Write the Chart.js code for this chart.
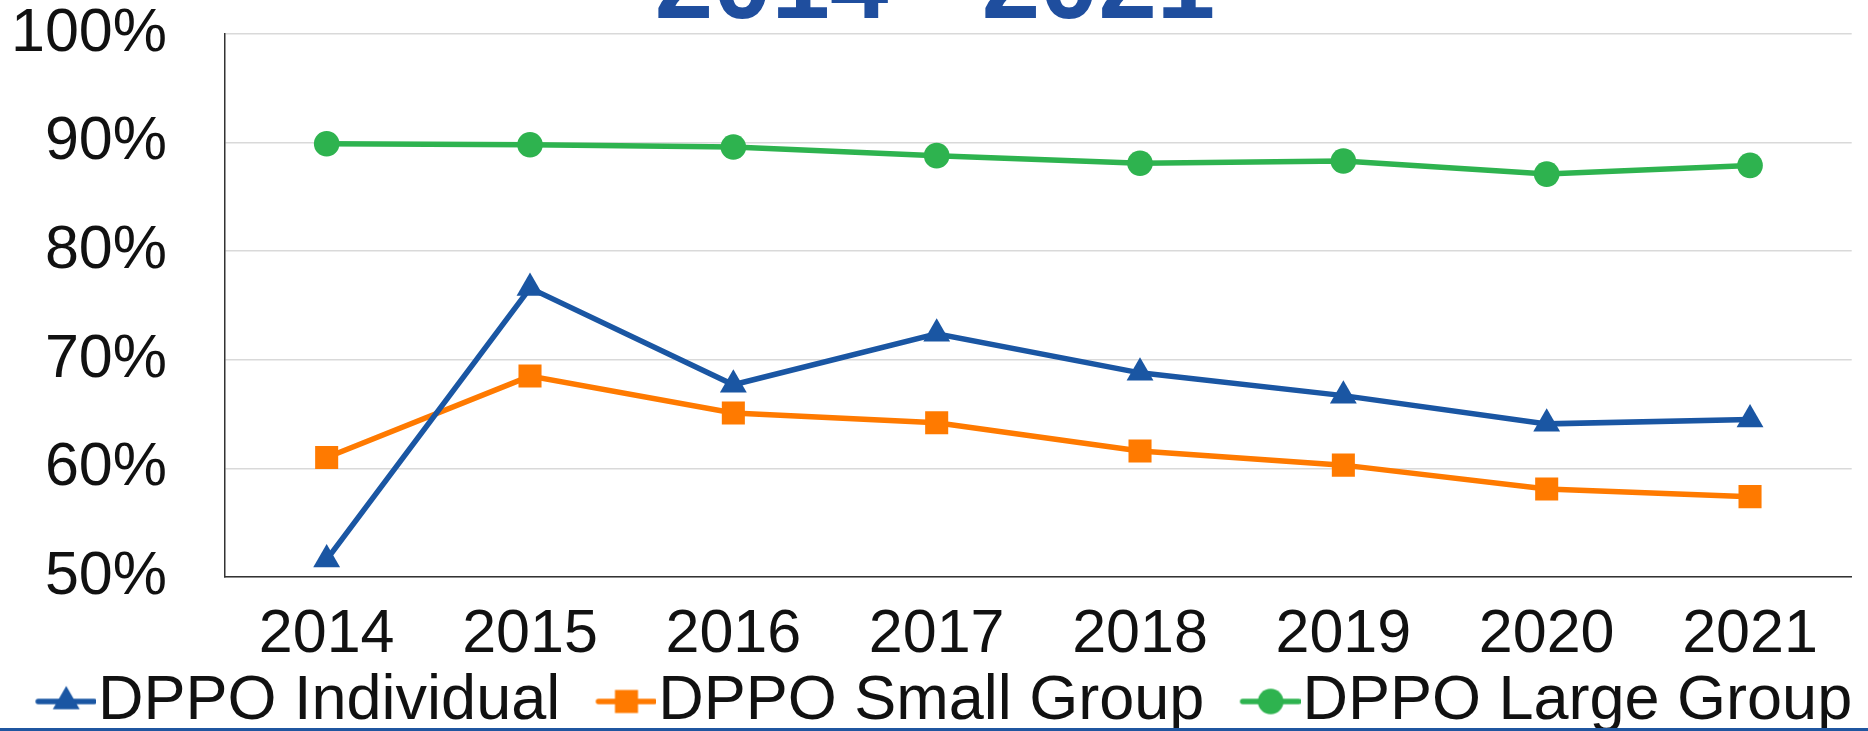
<!DOCTYPE html>
<html>
<head>
<meta charset="utf-8">
<script src="https://cdn.jsdelivr.net/npm/chart.js@4/dist/chart.umd.min.js"></script>
<style>
  html, body { margin: 0; padding: 0; background: #fff; }
  #wrap { width: 1868px; height: 731px; position: relative; }
</style>
</head>
<body>
<div id="wrap"><canvas id="chart" width="1868" height="731"></canvas></div>
<script>
const years = ["2014", "2015", "2016", "2017", "2018", "2019", "2020", "2021"];
const individual = [51.6, 76.6, 67.7, 72.4, 68.8, 66.7, 64.1, 64.5];
const smallGroup = [61.0, 68.5, 65.1, 64.2, 61.6, 60.3, 58.1, 57.4];
const largeGroup = [89.9, 89.8, 89.6, 88.8, 88.1, 88.3, 87.1, 87.9];
const titleText = "2014 - 2021";

const BLUE = "#1A56A3";
const ORANGE = "#FF7A00";
const GREEN = "#2EB34F";
const FONT = "Liberation Sans, Arial, sans-serif";
const LINE_W = 5.5;

// legend icon: short line with the marker in the middle,
// drawn in the right part of a wider transparent image
function makeIcon(color, style, r) {
  const c = document.createElement("canvas");
  c.width = 118;
  c.height = 34;
  const g = c.getContext("2d");
  const cx = 88, cy = 17;
  g.strokeStyle = color;
  g.fillStyle = color;
  g.lineWidth = LINE_W;
  g.lineCap = "round";
  g.beginPath();
  g.moveTo(60, cy);
  g.lineTo(116, cy);
  g.stroke();
  g.beginPath();
  if (style === "triangle") {
    g.moveTo(cx, cy - r);
    g.lineTo(cx + r * 0.866, cy + r * 0.5);
    g.lineTo(cx - r * 0.866, cy + r * 0.5);
    g.closePath();
  } else if (style === "rect") {
    const s = r * Math.SQRT1_2;
    g.rect(cx - s, cy - s, 2 * s, 2 * s);
  } else {
    g.arc(cx, cy, r, 0, Math.PI * 2);
  }
  g.fill();
  return c;
}

const icons = [
  makeIcon(BLUE, "triangle", 15.5),
  makeIcon(ORANGE, "rect", 16.3),
  makeIcon(GREEN, "circle", 12.8),
];

const extras = {
  id: "extras",
  afterDraw(chart) {
    const ctx = chart.ctx;
    ctx.save();
    ctx.fillStyle = "#1F4E9E";
    ctx.font = "bold 105px " + FONT;
    ctx.textAlign = "center";
    ctx.textBaseline = "alphabetic";
    ctx.fillText(titleText, 935, 18);
    ctx.fillStyle = "#1F56A0";
    ctx.fillRect(0, 728, chart.width, 3);
    ctx.restore();
  },
};

function chartIt() {
  const ctx = document.getElementById("chart");

  new Chart(ctx, {
    type: "line",
    data: {
      labels: years,
      datasets: [
        {
          label: "DPPO Individual",
          data: individual,
          borderColor: BLUE,
          backgroundColor: BLUE,
          borderWidth: LINE_W,
          pointStyle: "triangle",
          pointRadius: 15.5,
          pointBorderWidth: 0,
        },
        {
          label: "DPPO Small Group",
          data: smallGroup,
          borderColor: ORANGE,
          backgroundColor: ORANGE,
          borderWidth: LINE_W,
          pointStyle: "rect",
          pointRadius: 16.3,
          pointBorderWidth: 0,
        },
        {
          label: "DPPO Large Group",
          data: largeGroup,
          borderColor: GREEN,
          backgroundColor: GREEN,
          borderWidth: LINE_W,
          pointStyle: "circle",
          pointRadius: 12.8,
          pointBorderWidth: 0,
        },
      ],
    },
    options: {
      responsive: false,
      animation: false,
      layout: { padding: { top: 34, left: 0, right: 0, bottom: -12 } },
      scales: {
        x: {
          offset: true,
          grid: { display: false, drawTicks: false },
          border: { color: "#333", width: 1.5 },
          ticks: { color: "#111", font: { family: FONT, size: 61 }, padding: 22, autoSkip: false, maxRotation: 0 },
          afterFit: (scale) => { scale.height = 85; },
        },
        y: {
          min: 50,
          max: 100,
          grid: { color: "#d9d9d9", lineWidth: 1.5, drawTicks: false },
          border: { color: "#333", width: 1.5 },
          ticks: {
            stepSize: 10,
            autoSkip: false,
            color: "#111",
            padding: 58,
            font: { family: FONT, size: 61 },
            callback: (v) => v + "%",
          },
          afterFit: (scale) => {
            scale.width = 225;
            scale.paddingTop = 0;
            scale.paddingBottom = 0;
          },
        },
      },
      plugins: {
        title: { display: false },
        tooltip: { enabled: false },
        legend: {
          position: "bottom",
          align: "start",
          labels: {
            usePointStyle: true,
            boxWidth: 58.5,
            boxHeight: 34,
            padding: 8,
            color: "#111",
            font: { family: FONT, size: 63 },
            generateLabels: (chart) =>
              Chart.defaults.plugins.legend.labels
                .generateLabels(chart)
                .map((item, i) => ({ ...item, pointStyle: icons[i] })),
          },
        },
      },
    },
    plugins: [extras],
  });
}

chartIt();
</script>
</body>
</html>
